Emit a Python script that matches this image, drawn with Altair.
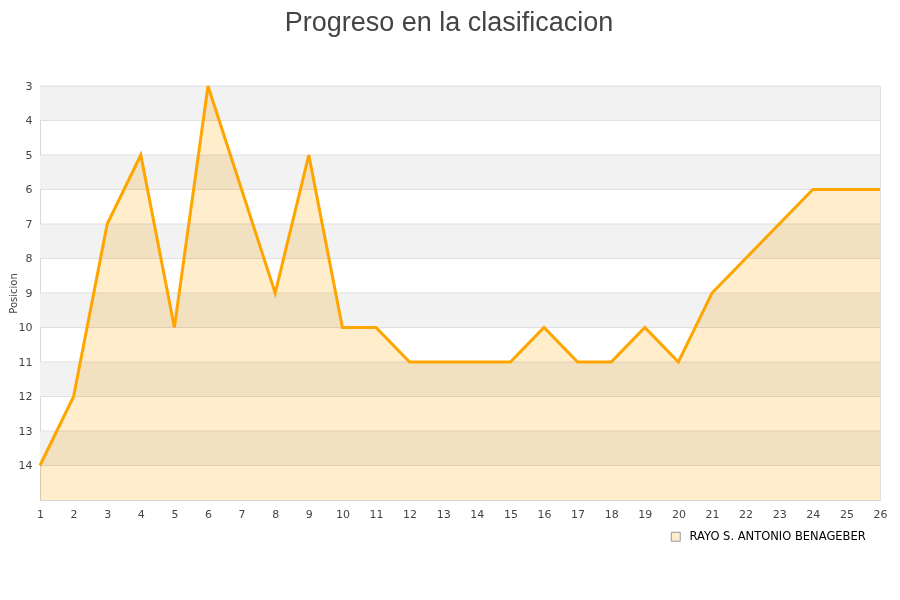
import altair as alt
import pandas as pd

jornadas = list(range(1, 27))
posiciones = [14, 12, 7, 5, 10, 3, 6, 9, 5, 10, 10, 11, 11, 11, 11, 10, 11, 11, 10, 11, 9, 8, 7, 6, 6, 6]
equipo = "RAYO S. ANTONIO BENAGEBER"
band_starts = [3, 5, 7, 9, 11, 13]
y_ticks = list(range(3, 15))

df = pd.DataFrame({"jornada": jornadas, "pos": posiciones, "equipo": [equipo] * len(jornadas)})
bands = pd.DataFrame({"y": band_starts, "y2": [b + 1 for b in band_starts]})
grid = pd.DataFrame({"y": y_ticks})

xscale = alt.Scale(domain=[1, 26], nice=False, zero=False)
yscale = alt.Scale(domain=[3, 15], reverse=True, nice=False, zero=False)

xaxis = alt.Axis(values=jornadas, title=None, grid=False, tickSize=0, labelPadding=8,
                 labelFontSize=11, labelColor="#444", domainColor="#d8d8d8",
                 labelFont="DejaVu Sans", format="d", labelOverlap=False, labelFlush=False)
yaxis = alt.Axis(values=y_ticks, title="Posicion", grid=False,
                 tickSize=0, labelPadding=8, labelFontSize=11, labelColor="#444",
                 domainColor="#d8d8d8", labelFont="DejaVu Sans", labelOverlap=False,
                 titleFont="DejaVu Sans", titleFontSize=10, titleFontWeight="normal",
                 titleColor="#444", titlePadding=0, format="d")

band_layer = alt.Chart(bands).mark_rect(color="#f2f2f2").encode(
    x=alt.datum(1, scale=xscale, axis=xaxis, type="quantitative"),
    x2=alt.datum(26),
    y=alt.Y("y:Q", scale=yscale, axis=yaxis),
    y2="y2:Q",
)

grid_layer = alt.Chart(grid).mark_rule(color="#e0e0e0", strokeWidth=1).encode(
    y=alt.Y("y:Q", scale=yscale, axis=yaxis),
)

area = alt.Chart(df).mark_area(blend="multiply", interpolate="linear").encode(
    x=alt.X("jornada:Q", scale=xscale, axis=xaxis),
    y=alt.Y("pos:Q", scale=yscale, axis=yaxis),
    y2=alt.datum(15),
    color=alt.Color("equipo:N", scale=alt.Scale(range=["#ffedcc"]),
                    legend=alt.Legend(title=None, orient="none", legendX=630, legendY=445,
                                      symbolType="square", symbolSize=80, labelOffset=8,
                                      symbolStrokeColor="#999", symbolStrokeWidth=1,
                                      labelFont="DejaVu Sans", labelFontSize=11.5,
                                      labelColor="#000", labelLimit=0)),
)

line = alt.Chart(df).mark_line(color="orange", strokeWidth=3).encode(
    x=alt.X("jornada:Q", scale=xscale, axis=xaxis),
    y=alt.Y("pos:Q", scale=yscale, axis=yaxis),
)

chart = alt.layer(band_layer, grid_layer, area, line).properties(
    width=840,
    height=414,
    title=alt.TitleParams("Progreso en la clasificacion", font="Liberation Sans", fontSize=27,
                          fontWeight="normal", color="#444", offset=43, anchor="middle", dx=-11),
    autosize=alt.AutoSizeParams(type="none"),
    padding={"left": 32, "top": 78, "right": 12, "bottom": 80},
).configure_view(stroke="#e0e0e0")

chart.save("out.html", embed_options={"renderer": "svg", "actions": False})
